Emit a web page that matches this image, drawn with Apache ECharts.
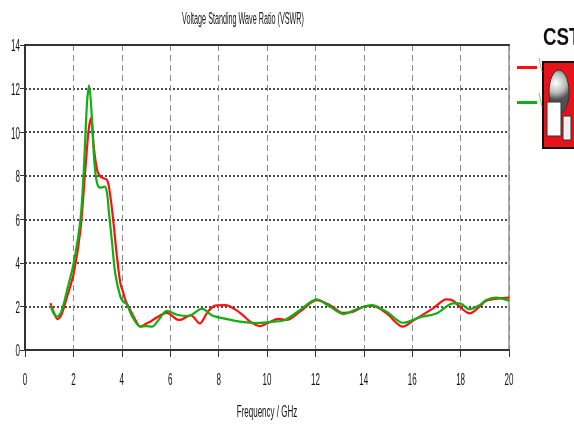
<!DOCTYPE html>
<html>
<head>
<meta charset="utf-8">
<script src="https://cdn.jsdelivr.net/npm/echarts@6/dist/echarts.min.js"></script>
<style>
  html, body { margin: 0; padding: 0; background: #fff; }
  #chart { width: 574px; height: 425px; }
</style>
</head>
<body>
<div id="chart"></div>
<script>
// VSWR traces (frequency in GHz, VSWR)
const redFreq = [1.05, 1.2, 1.34, 1.5, 1.74, 2.01, 2.29, 2.49, 2.63, 2.73, 2.84, 2.98, 3.12, 3.39, 3.53, 3.66, 3.8, 3.94, 4.07, 4.14, 4.35, 4.55, 4.76, 5.04, 5.18, 5.31, 5.86, 6.28, 6.41, 6.69, 6.85, 7.22, 7.55, 7.86, 8.3, 8.61, 8.95, 9.3, 9.71, 10.1, 10.47, 10.81, 11.36, 12.05, 12.6, 13.15, 13.56, 14.11, 14.38, 14.94, 15.62, 16.03, 16.86, 17.41, 17.69, 17.96, 18.37, 18.78, 19.06, 19.61, 20.0];
const redVswr = [2.15, 1.7, 1.42, 1.6, 2.45, 3.5, 5.5, 8.26, 10.1, 10.64, 9.33, 8.26, 7.95, 7.8, 7.03, 5.8, 4.28, 3.07, 2.6, 2.3, 1.83, 1.4, 1.07, 1.23, 1.3, 1.4, 1.7, 1.4, 1.38, 1.53, 1.6, 1.22, 1.75, 2.04, 2.06, 1.91, 1.65, 1.3, 1.1, 1.28, 1.43, 1.38, 1.76, 2.29, 2.06, 1.7, 1.76, 2.02, 2.02, 1.68, 1.07, 1.34, 1.91, 2.32, 2.26, 1.99, 1.68, 1.99, 2.26, 2.37, 2.4];

const greenFreq = [1.05, 1.2, 1.33, 1.5, 1.74, 2.01, 2.29, 2.43, 2.56, 2.65, 2.77, 2.87, 2.98, 3.1, 3.3, 3.39, 3.46, 3.6, 3.73, 3.94, 4.07, 4.21, 4.4, 4.76, 5.0, 5.25, 5.52, 5.86, 6.28, 6.76, 7.31, 7.72, 8.2, 8.89, 9.58, 10.26, 10.74, 11.36, 12.05, 12.6, 13.15, 13.7, 14.32, 14.94, 15.62, 16.31, 17.0, 17.69, 17.96, 18.37, 18.78, 19.06, 19.47, 20.0];
const greenVswr = [2.05, 1.65, 1.53, 1.75, 2.75, 3.98, 5.96, 8.26, 11.3, 12.15, 10.55, 8.57, 7.65, 7.45, 7.5, 7.2, 6.4, 4.9, 3.5, 2.45, 2.2, 2.1, 1.6, 1.07, 1.1, 1.07, 1.38, 1.8, 1.62, 1.56, 1.9, 1.6, 1.45, 1.3, 1.24, 1.3, 1.38, 1.83, 2.32, 1.99, 1.65, 1.87, 2.06, 1.76, 1.25, 1.5, 1.68, 2.14, 2.14, 1.87, 2.06, 2.29, 2.4, 2.26];

const xTicks = [0, 2, 4, 6, 8, 10, 12, 14, 16, 18, 20];
const yTicks = [0, 2, 4, 6, 8, 10, 12, 14];

const titleText = 'Voltage Standing Wave Ratio (VSWR)';
const xAxisTitle = 'Frequency / GHz';

const zip = (xs, ys) => xs.map((x, i) => [x, ys[i]]);
const FONT = '16px "Liberation Sans", Arial, sans-serif';
const TEXT_COLOR = '#141414';
const SQUEEZE = 0.5;   // condensed lettering

const chart = echarts.init(document.getElementById('chart'), null, { renderer: 'canvas' });

chart.setOption({
  animation: false,
  backgroundColor: '#ffffff',
  grid: {
    left: 25, right: 65, top: 45, bottom: 75,
    show: true, borderColor: '#b0b0b0', borderWidth: 2, backgroundColor: 'transparent'
  },
  legend: {
    orient: 'vertical',
    left: 512, top: 61,
    itemGap: 32,
    itemWidth: 20, itemHeight: 3,
    icon: 'rect',
    formatter: () => '',
    selectedMode: false,
    data: ['S1,1 red', 'S1,1 green']
  },
  xAxis: [
    {
      type: 'value', min: 0, max: 20, interval: 2,
      axisLine: { show: true, lineStyle: { color: '#333', width: 2 } },
      axisTick: { show: true, length: 7, lineStyle: { color: '#333', width: 1 } },
      axisLabel: { show: false },
      splitLine: { show: true, lineStyle: { color: '#8a8a8a', type: [6, 4], width: 1 } }
    },
    {
      type: 'value', min: 0, max: 20, position: 'top',
      axisLine: { show: true, lineStyle: { color: '#333', width: 2 } },
      axisTick: { show: false }, axisLabel: { show: false }, splitLine: { show: false }
    }
  ],
  yAxis: {
    type: 'value', min: 0, max: 14, interval: 2,
    axisLine: { show: true, lineStyle: { color: '#333', width: 2 } },
    axisTick: { show: true, length: 5, lineStyle: { color: '#333' } },
    axisLabel: { show: false },
    splitLine: { show: true, lineStyle: { color: '#111', type: [2, 2], width: 1.5 } }
  },
  series: [
    {
      name: 'S1,1 red', type: 'line', data: zip(redFreq, redVswr),
      smooth: 0.3, showSymbol: false, color: '#ff1010',
      lineStyle: { width: 2.2, color: '#ff1010' }, z: 3
    },
    {
      name: 'S1,1 green', type: 'line', data: zip(greenFreq, greenVswr),
      smooth: 0.3, showSymbol: false, color: '#10b010',
      lineStyle: { width: 2.2, color: '#10b010' }, z: 4
    }
  ]
});

// Condensed text: tick labels placed through the axes' own scales
function squeezedText(text, x, y, align, squeeze) {
  return {
    type: 'text', x: x, y: y, scaleX: squeeze || SQUEEZE, silent: true,
    style: { text: text, font: FONT, fill: TEXT_COLOR, textAlign: align, textVerticalAlign: 'middle' }
  };
}

const elements = [];
xTicks.forEach(v => {
  const p = chart.convertToPixel({ gridIndex: 0 }, [v, 0]);
  elements.push(squeezedText(String(v), p[0], p[1] + 31, 'center'));
});
yTicks.forEach(v => {
  const p = chart.convertToPixel({ gridIndex: 0 }, [0, v]);
  elements.push(squeezedText(String(v), p[0] - 5, p[1] + 2, 'right'));
});
const mid = chart.convertToPixel({ gridIndex: 0 }, [10, 0]);
elements.push(squeezedText(xAxisTitle, mid[0], mid[1] + 63, 'center'));
elements.push(squeezedText(titleText, 243, 20, 'center', 0.45));

// CST logo
elements.push(
  {
    type: 'text', x: 543, y: 38, scaleX: 0.78,
    style: { text: 'CST', font: 'bold 24px "Liberation Sans", Arial, sans-serif', fill: '#111', textVerticalAlign: 'middle' }
  },
  {
    type: 'group', x: 543, y: 62,
    children: [
      { type: 'rect', shape: { x: 0, y: 0, width: 34, height: 86 },
        style: { fill: '#e8121b', stroke: '#111', lineWidth: 2 } },
      { type: 'ellipse', shape: { cx: 16, cy: 30, rx: 10, ry: 22 },
        style: { fill: new echarts.graphic.RadialGradient(0.35, 0.3, 0.8, [
          { offset: 0, color: '#ffffff' }, { offset: 0.6, color: '#b8b8b8' }, { offset: 1, color: '#505050' }]),
          stroke: '#333', lineWidth: 1 } },
      { type: 'rect', shape: { x: 4, y: 40, width: 14, height: 34 },
        style: { fill: '#ffffff', stroke: '#333', lineWidth: 1 } },
      { type: 'rect', shape: { x: 20, y: 54, width: 8, height: 24 },
        style: { fill: '#f0f0f0', stroke: '#333', lineWidth: 1 } }
    ]
  },
  { type: 'line', shape: { x1: 539, y1: 58, x2: 542, y2: 72 }, style: { stroke: '#e8a060', lineWidth: 1 } },
  { type: 'line', shape: { x1: 539, y1: 93, x2: 542, y2: 107 }, style: { stroke: '#90c070', lineWidth: 1 } }
);

chart.setOption({ graphic: { elements: elements } });
</script>
</body>
</html>
